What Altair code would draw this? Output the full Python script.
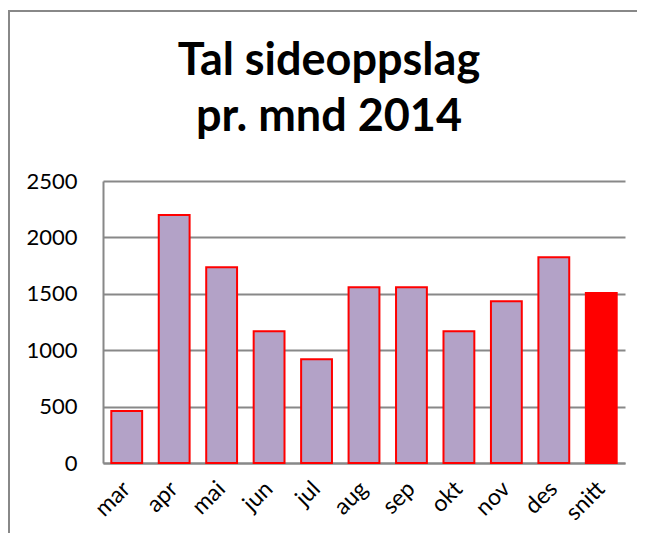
import altair as alt
import pandas as pd

months = ["mar", "apr", "mai", "jun", "jul", "aug", "sep", "okt", "nov", "des", "snitt"]
views = [461, 2199, 1735, 1167, 919, 1557, 1557, 1167, 1433, 1823, 1507]
kind = ["mnd"] * 10 + ["snitt"]
title_lines = ["Tal sideoppslag", "pr. mnd 2014"]

df = pd.DataFrame({"mnd": months, "views": views, "kind": kind})

FONT = "Lato"
GRID = "#888888"

bars = alt.Chart(df).mark_bar(strokeWidth=2).encode(
    x=alt.X("mnd:N", sort=months, title=None,
            scale=alt.Scale(paddingInner=0.35, paddingOuter=0.175),
            axis=alt.Axis(labelAngle=-45, labelAlign="right", labelBaseline="middle",
                          labelFontSize=23, labelFont=FONT, labelColor="#000000",
                          ticks=False, labelPadding=22, domainColor=GRID,
                          domainWidth=2, grid=False)),
    y=alt.Y("views:Q", title=None,
            scale=alt.Scale(domain=[0, 2500]),
            axis=alt.Axis(values=[0, 500, 1000, 1500, 2000, 2500], ticks=False, format="d",
                          labelFontSize=22, labelFont=FONT, labelColor="#000000",
                          labelPadding=26, domainColor=GRID, domainWidth=2,
                          gridColor=GRID, gridWidth=2)),
    fill=alt.Fill("kind:N", scale=alt.Scale(domain=["mnd", "snitt"], range=["#B3A2C7", "#FF0000"]),
                  legend=None),
    stroke=alt.value("#FF0000"),
)

frame_top = alt.Chart(df).mark_rule(color=GRID, strokeWidth=2).encode(
    x=alt.value(-95), x2=alt.value(545), y=alt.value(-170)
)
frame_left = alt.Chart(df).mark_rule(color=GRID, strokeWidth=2).encode(
    x=alt.value(-94), y=alt.value(-171), y2=alt.value(370)
)

chart = alt.layer(bars, frame_top, frame_left).properties(
    width=522, height=282,
    autosize=alt.AutoSizeParams(type="none"),
    padding={"left": 95, "top": 173, "right": 12, "bottom": 70},
    title=alt.TitleParams(text=title_lines, fontSize=45, font=FONT, fontWeight="bold",
                          lineHeight=56, anchor="middle", dx=-35, dy=131, offset=0,
                          color="#000000"),
).configure_view(stroke=None)

chart.save("out.html", embed_options={"renderer": "svg", "actions": False})
